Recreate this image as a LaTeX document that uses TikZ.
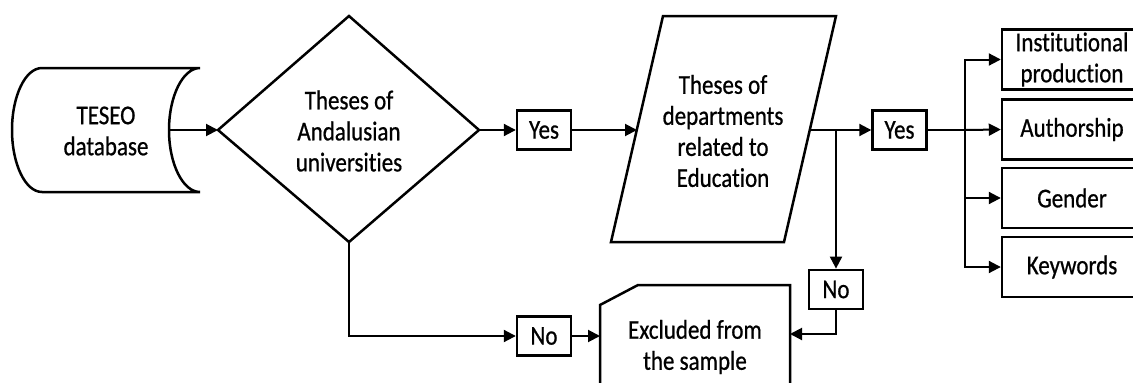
\documentclass[tikz,border=0pt]{standalone}
\usepackage{fontspec}
\setmainfont{Carlito}[Ligatures=NoCommon,RawFeature={embolden=0.8}]
\usetikzlibrary{arrows.meta}
\begin{document}
\begin{tikzpicture}[x=1pt,y=-1pt,
  fnt/.style={font=\fontsize{23}{26.3}\selectfont},
  txt/.style={fnt, align=center, inner sep=0pt, yscale=1.18},
  shp/.style={draw, line width=2.5pt, line join=miter},
  lbl/.style={fnt, draw, line width=2.4pt, minimum width=54pt, minimum height=33pt, inner sep=0pt, yscale=1.18},
  rbox/.style={fnt, draw, line width=2.4pt, minimum width=140pt, minimum height=50.8pt, inner sep=0pt, align=center, yscale=1.18},
  conn/.style={line width=2pt, -{Triangle[length=12pt,width=12pt]}},
  plain/.style={line width=2pt}]
\useasboundingbox (0,0) rectangle (1133,383);
% TESEO stored data shape
\draw[shp] (200,68) -- (42,68) .. controls (25.4,68) and (12,95.8) .. (12,130)
  .. controls (12,164.2) and (25.4,192) .. (42,192) -- (200,192)
  .. controls (183,192) and (169,164.2) .. (169,130)
  .. controls (169,95.8) and (183,68) .. (200,68);
\node[txt] (teseo) at (106,131) {TESEO\\database};
\coordinate (teseoR) at (169,130);
% diamond
\draw[shp] (349,16) -- (479,130) -- (349,242) -- (218,130) -- cycle;
\node[txt] (dia) at (349,131) {Theses of\\Andalusian\\universities};
\coordinate (diaW) at (218,130);
\coordinate (diaE) at (479,130);
\coordinate (diaS) at (349,242);
% parallelogram
\draw[shp] (663,16) -- (836,16) -- (784,242) -- (611,242) -- cycle;
\node[txt] (para) at (723,131) {Theses of\\departments\\related to\\Education};
\coordinate (paraW) at (637,130);
\coordinate (paraE) at (810,130);
% excluded
\draw[shp] (600,305) -- (638,285) -- (790,285) -- (790,400) -- (600,400) -- cycle;
\node[txt] (excl) at (695,347) {Excluded from\\the sample};
\coordinate (exclW) at (600,336);
\coordinate (exclE) at (790,334);
% labels
\node[lbl] (yes1) at (544,130) {Yes};
\node[lbl] (no1) at (544,336) {No};
\node[lbl] (no2) at (836,289.5) {No};
\node[lbl] (yes2) at (899.5,130) {Yes};
% right boxes
\node[rbox] (inst) at (1072,59.5) {Institutional\\production};
\node[rbox] (auth) at (1072,129.5) {Authorship};
\node[rbox] (gend) at (1072,198) {Gender};
\node[rbox] (keyw) at (1072,267) {Keywords};
\coordinate (branch) at (836,130);
\coordinate (split) at (965,130);
% connectors
\draw[conn] (teseoR) -- (diaW);
\draw[conn] (diaE) -- (yes1.west);
\draw[conn] (yes1.east) -- (paraW);
\draw[conn] (paraE) -- (yes2.west);
\draw[conn] (branch) -- (no2.north);
\draw[conn] (no2.south) |- (exclE);
\draw[conn] (diaS) |- (no1.west);
\draw[conn] (no1.east) -- (exclW);
\draw[plain] (yes2.east) -- (split);
\draw[conn] (split) |- (inst.west);
\draw[conn] (split) -- (auth.west);
\draw[conn] (split) |- (gend.west);
\draw[conn] (split) |- (keyw.west);
\end{tikzpicture}
\end{document}
